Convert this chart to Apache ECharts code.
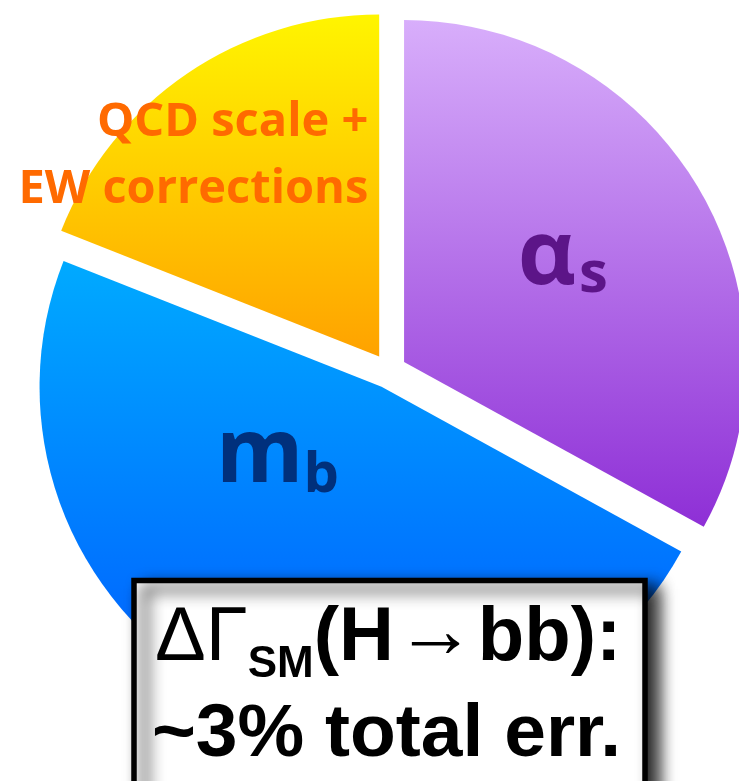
<!DOCTYPE html>
<html>
<head>
<meta charset="utf-8">
<script src="https://cdn.jsdelivr.net/npm/echarts@6/dist/echarts.min.js"></script>
<style>
  html, body { margin: 0; padding: 0; background: #ffffff; }
  #chart { width: 739px; height: 781px; }
</style>
</head>
<body>
<div id="chart"></div>
<script>
// Error budget of the SM H -> bb width, share of each source (%)
const categories = ['αs', 'mb', 'QCD scale + EW corrections'];
const shares = [33, 48, 19];

// Slice fills (top -> bottom gradient) and label colours
const sliceTop = ['#d8aefb', '#00aaff', '#fff500'];
const sliceBottom = ['#8e2fd6', '#0058ff', '#ffa200'];
const labelColors = ['#5c1588', '#00307c', '#ff6a00'];

// Summary box text
const boxLine1 = ['ΔΓ', 'SM', '(H', '→', 'bb):'];
const boxLine2 = '~3% total err.';

const chart = echarts.init(document.getElementById('chart'), null, { renderer: 'canvas' });

// Rich-text label per slice: main symbol plus subscript
function labelText(name) {
  if (name === 'αs') return '{main|α}{sub|s}';
  if (name === 'mb') return '{main|m}{sub|b}';
  return name.replace(' + ', ' +\n');
}

const labelStyles = [
  {
    rich: {
      main: { fontFamily: 'Open Sans', fontWeight: 'bold', fontSize: 90, color: labelColors[0] },
      sub: { fontFamily: 'Open Sans', fontWeight: 'bold', fontSize: 58, color: labelColors[0], padding: [34, 0, 0, 3] }
    }
  },
  {
    rich: {
      main: { fontFamily: 'Open Sans', fontWeight: 'bold', fontSize: 89, color: labelColors[1] },
      sub: { fontFamily: 'Open Sans', fontWeight: 'bold', fontSize: 56, color: labelColors[1], padding: [40, 0, 0, 0] }
    }
  },
  {
    fontFamily: 'Open Sans', fontWeight: 'bold', fontSize: 47, lineHeight: 67,
    color: labelColors[2], align: 'right'
  }
];

// Fine placement of each label relative to its slice's inner anchor
const labelShift = [
  { dx: 9, dy: -15 },
  { dx: -30, dy: -88 },
  { dx: 87, dy: -57, align: 'right' }
];

const pieData = categories.map((name, i) => ({
  name: name,
  value: shares[i],
  selected: true,
  itemStyle: {
    color: new echarts.graphic.LinearGradient(0, 0, 0, 1, [
      { offset: 0, color: sliceTop[i] },
      { offset: 1, color: sliceBottom[i] }
    ])
  },
  label: Object.assign({ show: true, position: 'inside', formatter: labelText(name) }, labelStyles[i])
}));

const option = {
  animation: false,
  backgroundColor: '#ffffff',
  series: [{
    type: 'pie',
    center: [389, 371],
    radius: [0, 342],
    startAngle: 90,
    clockwise: true,
    selectedMode: 'multiple',
    selectedOffset: 17.5,
    avoidLabelOverlap: false,
    silent: true,
    emphasis: { disabled: true },
    itemStyle: { borderWidth: 0 },
    labelLine: { show: false },
    labelLayout: function (params) {
      return labelShift[params.dataIndex];
    },
    data: pieData
  }],
  graphic: [
    {
      type: 'rect',
      z: 100,
      shape: { x: 134, y: 580.5, width: 511, height: 260 },
      style: {
        fill: '#ffffff',
        stroke: '#000000',
        lineWidth: 5.5,
        shadowBlur: 16,
        shadowOffsetX: 11,
        shadowOffsetY: 8,
        shadowColor: 'rgba(0,0,0,0.9)'
      }
    },
    {
      type: 'text',
      z: 101,
      style: {
        x: 155,
        y: 639,
        verticalAlign: 'middle',
        align: 'left',
        text: '{d|' + boxLine1[0] + '}{s|' + boxLine1[1] + '}{b|' + boxLine1[2] + '}{a|' + boxLine1[3] + '}{b|' + boxLine1[4] + '}',
        rich: {
          d: { fontFamily: 'Liberation Sans', fontWeight: 'normal', fontSize: 76, fill: '#000' },
          s: { fontFamily: 'Liberation Sans', fontWeight: 'bold', fontSize: 44, fill: '#000', padding: [51, 0, 0, 0] },
          b: { fontFamily: 'Liberation Sans', fontWeight: 'bold', fontSize: 76, fill: '#000' },
          a: { fontFamily: 'Liberation Sans', fontWeight: 'normal', fontSize: 80, fill: '#000', padding: [0, 2, 8, 2] }
        }
      }
    },
    {
      type: 'text',
      z: 101,
      style: {
        x: 152,
        y: 735,
        verticalAlign: 'middle',
        align: 'left',
        text: boxLine2,
        fontFamily: 'Liberation Sans',
        fontWeight: 'bold',
        fontSize: 75,
        fill: '#000'
      }
    }
  ]
};

chart.setOption(option);
</script>
</body>
</html>
